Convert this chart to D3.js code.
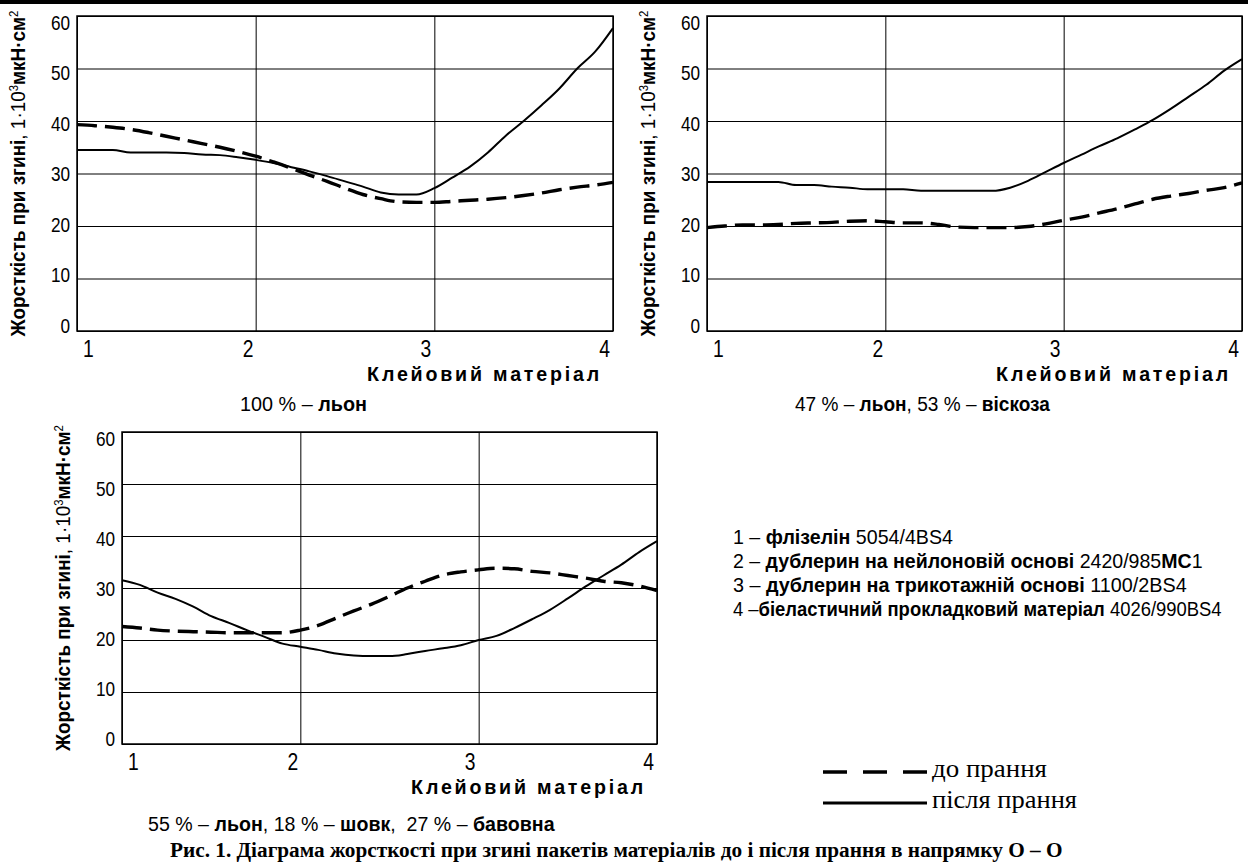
<!DOCTYPE html>
<html>
<head>
<meta charset="utf-8">
<script src="https://cdn.jsdelivr.net/npm/d3@7"></script>
<style>
    body { margin: 0; background: #fff; }
    svg { display: block; }
    .sans { font-family: "Liberation Sans", Arial, sans-serif; }
    .serif { font-family: "Liberation Serif", "Times New Roman", serif; }
</style>
</head>
<body>
<div id="chart"></div>
<script>
var svgWidth = 1248;
var svgHeight = 866;

// Glue materials on the x axis and stiffness ticks
var materials = [1, 2, 3, 4];
var yTicks = [0, 10, 20, 30, 40, 50, 60];

var xPoints = [1.0, 1.1, 1.2, 1.3, 1.4, 1.5, 1.6, 1.7, 1.8, 1.9,
    2.0, 2.1, 2.2, 2.3, 2.4, 2.5, 2.6, 2.7, 2.8, 2.9,
    3.0, 3.1, 3.2, 3.3, 3.4, 3.5, 3.6, 3.7, 3.8, 3.9, 4.0];

// 100 % linen
var linenBefore = [39.3, 39.1, 38.8, 38.4, 37.8, 37.1, 36.4, 35.7, 35.0, 34.2,
    33.3, 32.2, 31.0, 29.7, 28.5, 27.2, 26.0, 25.2, 24.6, 24.5,
    24.5, 24.7, 24.9, 25.1, 25.4, 25.8, 26.3, 26.9, 27.4, 27.8, 28.3];
var linenAfter = [34.5, 34.5, 34.5, 34.0, 34.0, 34.0, 33.9, 33.6, 33.5, 33.1,
    32.6, 32.0, 31.2, 30.4, 29.5, 28.5, 27.5, 26.4, 26.0, 26.0,
    27.2, 29.2, 31.3, 34.0, 37.2, 40.0, 43.0, 46.2, 50.0, 53.2, 57.7];

// 47 % linen, 53 % viscose
var viscoseBefore = [19.7, 20.0, 20.2, 20.2, 20.3, 20.5, 20.6, 20.7, 20.9, 21.0,
    20.8, 20.6, 20.6, 20.3, 19.8, 19.7, 19.7, 19.7, 19.9, 20.4,
    21.1, 21.7, 22.5, 23.3, 24.2, 25.1, 25.7, 26.2, 26.8, 27.3, 28.2];
var viscoseAfter = [28.4, 28.4, 28.4, 28.4, 28.4, 27.8, 27.8, 27.5, 27.3, 27.0,
    27.0, 27.0, 26.7, 26.7, 26.7, 26.7, 26.7, 27.3, 28.6, 30.3,
    32.0, 33.6, 35.2, 36.7, 38.4, 40.2, 42.3, 44.6, 46.9, 49.6, 51.8];

// 55 % linen, 18 % silk, 27 % cotton
var mixBefore = [22.6, 22.3, 21.9, 21.7, 21.6, 21.5, 21.4, 21.4, 21.4, 21.4,
    21.9, 22.8, 24.2, 25.6, 26.9, 28.4, 30.0, 31.3, 32.5, 33.1,
    33.5, 33.8, 33.7, 33.2, 32.9, 32.4, 31.9, 31.3, 31.0, 30.4, 29.5];
var mixAfter = [31.5, 30.6, 29.1, 27.9, 26.4, 24.6, 23.3, 21.9, 20.6, 19.3,
    18.7, 18.1, 17.4, 17.0, 16.9, 16.9, 17.3, 17.9, 18.4, 19.0,
    20.0, 20.8, 22.3, 24.0, 25.8, 28.0, 30.3, 32.4, 34.5, 36.9, 39.0];

// Texts: [text, bold]
var fabricTitles = [
    [["100 % – ", 0], ["льон", 1]],
    [["47 % – ", 0], ["льон", 1], [", 53 % – ", 0], ["віскоза", 1]],
    [["55 % – ", 0], ["льон", 1], [", 18 % – ", 0], ["шовк", 1], [",  27 % – ", 0], ["бавовна", 1]]
];
var materialNames = [
    [["1 – ", 0], ["флізелін", 1], [" 5054/4BS4", 0]],
    [["2 – ", 0], ["дублерин на нейлоновій основі", 1], [" 2420/985", 0], ["МС", 1], ["1", 0]],
    [["3 – ", 0], ["дублерин на трикотажній основі", 1], [" 1100/2BS4", 0]],
    [["4 –", 0], ["біеластичний прокладковий матеріал", 1], [" 4026/990BS4", 0]]
];
var washLabels = ["до прання", "після прання"];
var xTitle = "Клейовий матеріал";
var figCaption = "Рис. 1. Діаграма жорсткості при згині пакетів матеріалів до і після прання в напрямку О – О";

var svg = d3.select("#chart")
    .append("svg")
    .attr("width", svgWidth)
    .attr("height", svgHeight);

// thick rule at the top of the page
svg.append("line")
    .attr("x1", 0).attr("x2", svgWidth)
    .attr("y1", 2).attr("y2", 2)
    .attr("stroke", "#000")
    .attr("stroke-width", 4);

var panels = [
    { left: 77, top: 16, width: 536, height: 315, before: linenBefore, after: linenAfter,
      title: fabricTitles[0], titleX: 240, titleY: 411, titleLen: 127 },
    { left: 707, top: 16, width: 535, height: 315, before: viscoseBefore, after: viscoseAfter,
      title: fabricTitles[1], titleX: 795, titleY: 411, titleLen: 255 },
    { left: 122, top: 432, width: 535, height: 312, before: mixBefore, after: mixAfter,
      title: fabricTitles[2], titleX: 148, titleY: 831, titleLen: 407 }
];

var tickShift = [11, -8, -9, -9];

function addSegments(textSel, segments) {
    segments.forEach(function(s) {
        textSel.append("tspan")
            .attr("font-weight", s[1] ? "bold" : "normal")
            .text(s[0]);
    });
}

// squeeze a text horizontally so it takes the width it has in the original
function fitText(t, prefix, target) {
    var len = t.node().getComputedTextLength();
    t.attr("transform", `${prefix} scale(${target / len}, 1)`);
}

panels.forEach(function(p) {
    var g = svg.append("g")
        .attr("transform", `translate(${p.left}, ${p.top})`);

    var xScale = d3.scaleLinear().domain([1, 4]).range([0, p.width]);
    var yScale = d3.scaleLinear().domain([0, 60]).range([p.height, 0]);

    // horizontal grid + y labels
    var leftAxis = d3.axisLeft(yScale)
        .tickValues(yTicks)
        .tickSize(-p.width)
        .tickPadding(8);
    var yAxis = g.append("g").call(leftAxis);
    yAxis.select(".domain").remove();
    yAxis.selectAll(".tick line").attr("stroke", "#000").attr("stroke-width", 1);
    yAxis.selectAll(".tick text")
        .attr("class", "sans")
        .attr("font-size", 20)
        .attr("fill", "#000")
        .attr("transform", "scale(0.86, 1)")
        .attr("dy", d => (1.4 + 0.2 * d) + "px");

    // vertical grid + x labels
    var bottomAxis = d3.axisBottom(xScale)
        .tickValues(materials)
        .tickSize(-p.height)
        .tickPadding(10)
        .tickFormat(d3.format("d"));
    var xAxis = g.append("g")
        .attr("transform", `translate(0, ${p.height})`)
        .call(bottomAxis);
    xAxis.select(".domain").remove();
    xAxis.selectAll(".tick line").attr("stroke", "#000").attr("stroke-width", 1);
    xAxis.selectAll(".tick text")
        .attr("class", "sans")
        .attr("font-size", 23)
        .attr("fill", "#000")
        .attr("transform", "scale(0.84, 1)")
        .attr("dx", (d, i) => tickShift[i] / 0.84);

    // frame
    g.append("rect")
        .attr("width", p.width)
        .attr("height", p.height)
        .attr("fill", "none")
        .attr("stroke", "#000")
        .attr("stroke-width", 1.5);

    var line = d3.line()
        .x((d, i) => xScale(xPoints[i]))
        .y(d => yScale(d))
        .curve(d3.curveMonotoneX);

    g.append("path")
        .datum(p.after)
        .attr("d", line)
        .attr("fill", "none")
        .attr("stroke", "#000")
        .attr("stroke-width", 2);

    g.append("path")
        .datum(p.before)
        .attr("d", line)
        .attr("fill", "none")
        .attr("stroke", "#000")
        .attr("stroke-width", 3.4)
        .attr("stroke-dasharray", "20,8");

    // x axis title: narrow bold letters, spaced out
    var xt = g.append("text")
        .attr("class", "sans")
        .attr("text-anchor", "end")
        .attr("font-size", 21)
        .attr("font-weight", "bold")
        .attr("letter-spacing", 3)
        .text(xTitle);
    fitText(xt, `translate(${p.width - 11}, ${p.height + 50})`, 235);

    // y axis title
    var yt = g.append("text")
        .attr("class", "sans")
        .attr("text-anchor", "middle")
        .attr("font-size", 20);
    yt.append("tspan").attr("font-weight", "bold").text("Жорсткість при згині");
    yt.append("tspan").text(", 1·10");
    yt.append("tspan").attr("font-size", 12).attr("dy", -7).text("3");
    yt.append("tspan").attr("font-weight", "bold").attr("dy", 7).text("мкН·см");
    yt.append("tspan").attr("font-size", 12).attr("dy", -7).text("2");
    fitText(yt, `translate(-52, ${p.height / 2}) rotate(-90)`, 326);

    // fabric composition under the panel
    var ft = svg.append("text")
        .attr("class", "sans")
        .attr("font-size", 21)
        .attr("xml:space", "preserve");
    addSegments(ft, p.title);
    fitText(ft, `translate(${p.titleX}, ${p.titleY})`, p.titleLen);
});

// material legend
var legendLen = [220, 470, 454, 489];
materialNames.forEach(function(m, i) {
    var t = svg.append("text")
        .attr("class", "sans")
        .attr("font-size", 20);
    addSegments(t, m);
    fitText(t, `translate(733, ${544 + i * 24})`, legendLen[i]);
});

// washing legend
var washStyles = [
    { dash: "24,16", width: 3.6, y: 772, len: 115 },
    { dash: null, width: 3.2, y: 803, len: 145 }
];
washStyles.forEach(function(s, i) {
    svg.append("line")
        .attr("x1", 823).attr("x2", 927)
        .attr("y1", s.y).attr("y2", s.y)
        .attr("stroke", "#000")
        .attr("stroke-width", s.width)
        .attr("stroke-dasharray", s.dash);
    var t = svg.append("text")
        .attr("class", "serif")
        .attr("font-size", 25)
        .text(washLabels[i]);
    fitText(t, `translate(932, ${s.y + 5})`, s.len);
});

var cap = svg.append("text")
    .attr("class", "serif")
    .attr("font-size", 20)
    .attr("font-weight", "bold")
    .text(figCaption);
fitText(cap, "translate(170, 857)", 893);
</script>
</body>
</html>
